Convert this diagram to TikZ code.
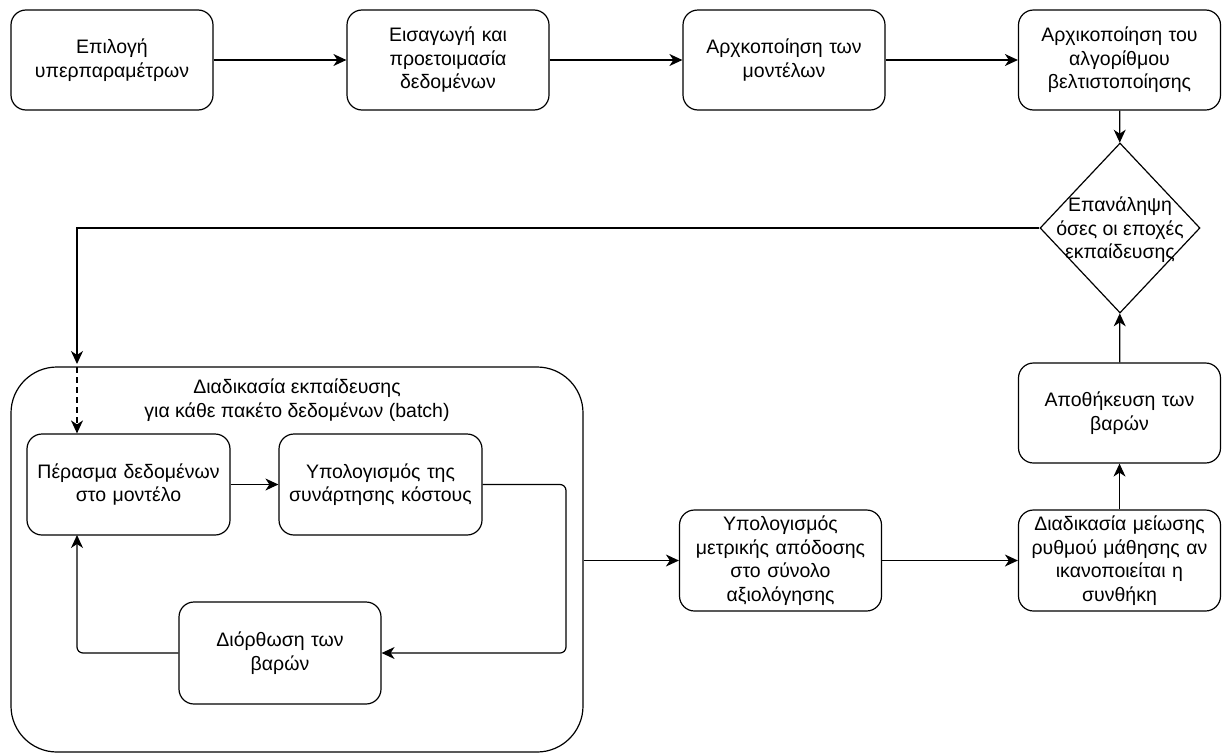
\documentclass[tikz,border=0pt]{standalone}
\usepackage{fontspec}
\setmainfont{Liberation Sans}
\usetikzlibrary{arrows.meta,shapes.geometric,calc}

\begin{document}
\begin{tikzpicture}[x=1pt,y=-1pt,
  txt/.style={font=\fontsize{19.5}{23.5}\selectfont, align=center, inner sep=0pt},
  box/.style={txt, draw, rectangle, rounded corners=15pt, line width=1.2pt,
    minimum width=202pt, minimum height=100pt, text width=200pt},
  decision/.style={draw, diamond, line width=1.2pt, inner sep=0pt,
    minimum width=160pt, minimum height=170pt},
  group/.style={draw, rectangle, rounded corners=46pt, line width=1.2pt, inner sep=0pt},
  flow/.style={line width=1.2pt, -{Stealth[length=13pt,width=12pt,inset=4pt]}},
  elbow/.style={flow, rounded corners=6pt}
]
\useasboundingbox (0,0) rectangle (1222,755);

% top row: preparation steps
\node[box] (hyp)  at (112,60)    {Επιλογή\\υπερπαραμέτρων};
\node[box] (load) at (448,60)    {Εισαγωγή και\\προετοιμασία\\δεδομένων};
\node[box] (init) at (784,60)    {Αρχκοποίηση των\\μοντέλων};
\node[box] (opt)  at (1119.5,60) {Αρχικοποίηση του\\αλγορίθμου\\βελτιστοποίησης};

% epoch loop decision
\node[decision] (loop) at (1120,228) {};
\node[txt] at ($(loop.center)+(0,2)$) {Επανάληψη\\όσες οι εποχές\\εκπαίδευσης};

% per-batch training group
\node[group, minimum width=572pt, minimum height=385pt] (train) at (297,559.5) {};
\node[txt] (trainlabel) at (297,400) {Διαδικασία εκπαίδευσης\\για κάθε πακέτο δεδομένων (batch)};
\coordinate (entry) at (77,367);

\node[box, minimum width=203pt, minimum height=101pt] (pass) at (128.5,484.5) {Πέρασμα δεδομένων\\στο μοντέλο};
\node[box, minimum width=203pt, minimum height=101pt] (cost) at (380.5,484.5) {Υπολογισμός της\\συνάρτησης κόστους};
\node[box, minimum height=102pt] (fix) at (280,653) {Διόρθωση των\\βαρών};

% evaluation and checkpointing
\node[box, minimum height=101pt] (metric) at (780.5,560.5) {Υπολογισμός\\μετρικής απόδοσης\\στο σύνολο\\αξιολόγησης};
\node[box, minimum height=101pt] (lr)     at (1119.5,560.5) {Διαδικασία μείωσης\\ρυθμού μάθησης αν\\ικανοποιείται η\\συνθήκη};
\node[box] (save) at (1119.5,413) {Αποθήκευση των\\βαρών};

% connectors
\draw[flow] (hyp) -- (load);
\draw[flow] (load) -- (init);
\draw[flow] (init) -- (opt);
\draw[flow] (opt) -- (loop);
\draw[flow, shorten >=3pt] (loop.west) -| (entry);
\draw[flow, dash pattern=on 6pt off 4pt] (entry) -- (entry |- pass.north);
\draw[flow] (pass) -- (cost);
\draw[elbow] (cost.east) -- (566,484.5) -- (566,653) -- (fix.east);
\draw[elbow] (fix.west) -- (77,653) -- (77,535);
\draw[flow] (train.east |- metric.west) -- (metric.west);
\draw[flow] (metric) -- (lr);
\draw[flow] (lr) -- (save);
\draw[flow] (save) -- (loop);
\end{tikzpicture}
\end{document}
